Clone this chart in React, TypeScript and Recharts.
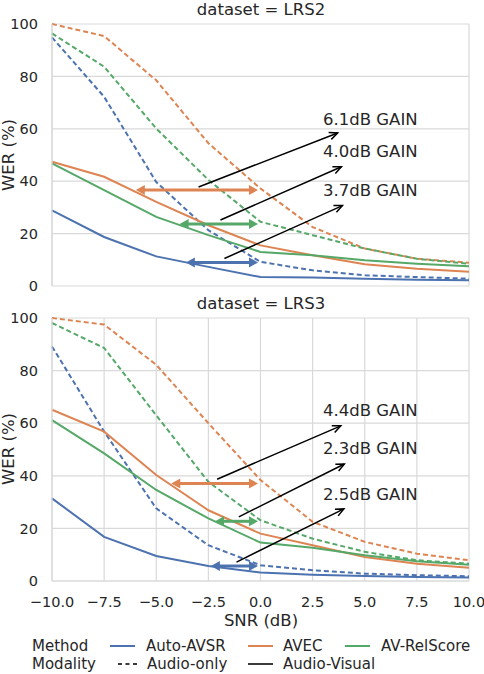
import React from 'react';
import {
  LineChart,
  Line,
  XAxis,
  YAxis,
  CartesianGrid,
  ReferenceLine,
  ReferenceDot,
} from 'recharts';

// SNR levels (dB) on the x axis
const snr = [-10, -7.5, -5, -2.5, 0, 2.5, 5, 7.5, 10];
const yTicks = [0, 20, 40, 60, 80, 100];

// LRS2 WER (%)
const lrs2AutoAvsrAudio = [94.9, 72.2, 39.7, 21.3, 9.2, 6.0, 4.1, 3.4, 2.8];
const lrs2AutoAvsrAV = [28.9, 18.7, 11.3, 7.3, 3.4, 3.2, 2.8, 2.4, 2.2];
const lrs2AvecAudio = [100, 95.4, 78.5, 54.5, 37.2, 22.5, 14.3, 10.4, 8.9];
const lrs2AvecAV = [47.4, 41.7, 32.1, 23.2, 15.5, 11.7, 8.3, 6.6, 5.4];
const lrs2RelAudio = [96.4, 83.7, 60.1, 40.5, 24.5, 19.4, 14.3, 10.4, 8.5];
const lrs2RelAV = [46.8, 36.6, 26.4, 19.4, 13.0, 11.7, 9.8, 8.5, 7.5];

// LRS3 WER (%)
const lrs3AutoAvsrAudio = [89.2, 56.8, 27.6, 13.6, 6.0, 4.1, 2.8, 2.2, 1.8];
const lrs3AutoAvsrAV = [31.4, 16.8, 9.5, 5.7, 3.2, 2.4, 1.9, 1.5, 1.3];
const lrs3AvecAudio = [100, 97.5, 82.2, 60.0, 38.4, 22.5, 14.9, 10.4, 7.9];
const lrs3AvecAV = [65.1, 56.8, 40.3, 26.9, 18.0, 13.6, 9.1, 6.6, 5.0];
const lrs3RelAudio = [98.1, 88.6, 63.0, 37.7, 23.1, 16.1, 11.1, 7.9, 6.6];
const lrs3RelAV = [61.2, 48.5, 34.6, 23.8, 14.6, 12.6, 9.8, 7.5, 6.2];

// annotations: gain arrows (AVEC, AV-RelScore, Auto-AVSR order), y level of each arrow
const lrs2Gains = [6.1, 4.0, 3.7];
const lrs2GainY = [36.6, 23.7, 9.0];
const lrs3Gains = [4.4, 2.3, 2.5];
const lrs3GainY = [37.1, 22.7, 5.7];

// pointer arrows from gain arrow to label: [x1, y1, x2, y2]
const lrs2Pointers = [
  [-2.97, 37.8, 3.7, 58.4],
  [-1.92, 25.2, 3.88, 45.5],
  [-1.73, 10.5, 3.93, 30.7],
];
const lrs3Pointers = [
  [-2.08, 38.7, 3.85, 59.0],
  [-1.04, 24.4, 4.02, 44.5],
  [-1.15, 7.2, 4.0, 27.4],
];
const lrs2LabelY = [63.7, 51.3, 36.3];
const lrs3LabelY = [64.7, 50.2, 32.9];
const labelX = 3.0;

const FONT = '"DejaVu Sans", sans-serif';
const TEXT = '#262626';
const GRID = '#d9d9d9';
const BLUE = '#4c72b0';
const ORANGE = '#dd8452';
const GREEN = '#55a868';
const arrowColors = [ORANGE, GREEN, BLUE];

const buildRows = (
  autoAO: number[], autoAV: number[], avecAO: number[], avecAV: number[], relAO: number[], relAV: number[],
) =>
  snr.map((s, i) => ({
    snr: s,
    autoAO: autoAO[i],
    autoAV: autoAV[i],
    avecAO: avecAO[i],
    avecAV: avecAV[i],
    relAO: relAO[i],
    relAV: relAV[i],
  }));

const lrs2Data = buildRows(lrs2AutoAvsrAudio, lrs2AutoAvsrAV, lrs2AvecAudio, lrs2AvecAV, lrs2RelAudio, lrs2RelAV);
const lrs3Data = buildRows(lrs3AutoAvsrAudio, lrs3AutoAvsrAV, lrs3AvecAudio, lrs3AvecAV, lrs3RelAudio, lrs3RelAV);

const fmtTick = (v: number) => v.toFixed(1).replace('-', '\u2212');

const doubleArrow = (color: string) => (p: any) => {
  const shrink = 2.5;
  const head = 9;
  const half = 5;
  const lx = Math.min(p.x1, p.x2) + shrink;
  const rx = Math.max(p.x1, p.x2) - shrink;
  const y = p.y1;
  return (
    <g>
      <line x1={lx + head - 1} y1={y} x2={rx - head + 1} y2={y} stroke={color} strokeWidth={3} />
      <polygon points={`${lx},${y} ${lx + head},${y - half} ${lx + head},${y + half}`} fill={color} />
      <polygon points={`${rx},${y} ${rx - head},${y - half} ${rx - head},${y + half}`} fill={color} />
    </g>
  );
};

const pointerArrow = (p: any) => {
  const { x1, y1, x2, y2 } = p;
  const ang = Math.atan2(y2 - y1, x2 - x1);
  const len = 9;
  const spread = 0.42;
  const ax = x2 - len * Math.cos(ang - spread);
  const ay = y2 - len * Math.sin(ang - spread);
  const bx = x2 - len * Math.cos(ang + spread);
  const by = y2 - len * Math.sin(ang + spread);
  return (
    <g>
      <line x1={x1} y1={y1} x2={x2} y2={y2} stroke="#000" strokeWidth={1.5} />
      <polyline points={`${ax},${ay} ${x2},${y2} ${bx},${by}`} fill="none" stroke="#000" strokeWidth={1.5} />
    </g>
  );
};

const gainLabel = (text: string) => (p: any) => (
  <text x={p.cx} y={p.cy} dominantBaseline="central" fontSize={16.5} fontFamily={FONT} fill={TEXT}>
    {text}
  </text>
);

interface PanelProps {
  data: any[];
  gains: number[];
  gainY: number[];
  pointers: number[][];
  labelY: number[];
  height: number;
  top: number;
  showX: boolean;
}

const Panel: React.FC<PanelProps> = ({ data, gains, gainY, pointers, labelY, height, top, showX }) => (
  <LineChart
    width={484}
    height={height}
    data={data}
    margin={{ top, right: 15, bottom: showX ? 0 : 9, left: 0 }}
  >
    <CartesianGrid stroke={GRID} strokeWidth={1.2} />
    <XAxis
      dataKey="snr"
      type="number"
      domain={[-10, 10]}
      ticks={snr}
      interval={0}
      height={showX ? 49 : 0}
      tick={showX ? { fontSize: 14.5, fill: TEXT, fontFamily: FONT } : false}
      tickFormatter={fmtTick}
      tickLine={false}
      tickSize={6}
      tickMargin={10}
      axisLine={{ stroke: GRID, strokeWidth: 1.2 }}
    />
    <YAxis
      type="number"
      domain={[0, 100]}
      ticks={yTicks}
      width={52}
      tick={{ fontSize: 14.5, fill: TEXT, fontFamily: FONT }}
      tickLine={false}
      tickSize={6}
      tickMargin={8}
      axisLine={{ stroke: GRID, strokeWidth: 1.2 }}
    />
    <Line dataKey="avecAO" stroke={ORANGE} strokeWidth={2} strokeDasharray="5 3" dot={false} isAnimationActive={false} />
    <Line dataKey="relAO" stroke={GREEN} strokeWidth={2} strokeDasharray="5 3" dot={false} isAnimationActive={false} />
    <Line dataKey="autoAO" stroke={BLUE} strokeWidth={2} strokeDasharray="5 3" dot={false} isAnimationActive={false} />
    <Line dataKey="avecAV" stroke={ORANGE} strokeWidth={2} dot={false} isAnimationActive={false} />
    <Line dataKey="relAV" stroke={GREEN} strokeWidth={2} dot={false} isAnimationActive={false} />
    <Line dataKey="autoAV" stroke={BLUE} strokeWidth={2} dot={false} isAnimationActive={false} />
    {gains.map((g, i) => (
      <ReferenceLine
        key={`g${i}`}
        segment={[{ x: -g, y: gainY[i] }, { x: 0, y: gainY[i] }]}
        shape={doubleArrow(arrowColors[i])}
        ifOverflow="visible"
      />
    ))}
    {pointers.map((pt, i) => (
      <ReferenceLine
        key={`p${i}`}
        segment={[{ x: pt[0], y: pt[1] }, { x: pt[2], y: pt[3] }]}
        shape={pointerArrow}
        ifOverflow="visible"
      />
    ))}
    {gains.map((g, i) => (
      <ReferenceDot
        key={`l${i}`}
        x={labelX}
        y={labelY[i]}
        r={0}
        shape={gainLabel(`${g.toFixed(1)}dB GAIN`)}
        ifOverflow="visible"
      />
    ))}
  </LineChart>
);

const txt = { fontFamily: FONT, fill: TEXT } as const;

const App: React.FC = () => (
  <div style={{ position: 'absolute', left: 0, top: 0, width: 484, height: 674, background: '#fff' }}>
    <div style={{ position: 'absolute', left: 0, top: 0 }}>
      <Panel data={lrs2Data} gains={lrs2Gains} gainY={lrs2GainY} pointers={lrs2Pointers} labelY={lrs2LabelY} height={295} top={24} showX={false} />
    </div>
    <div style={{ position: 'absolute', left: 0, top: 295 }}>
      <Panel data={lrs3Data} gains={lrs3Gains} gainY={lrs3GainY} pointers={lrs3Pointers} labelY={lrs3LabelY} height={335} top={23} showX />
    </div>
    <svg width={484} height={674} style={{ position: 'absolute', left: 0, top: 0, pointerEvents: 'none' }}>
      <text x={261} y={15} textAnchor="middle" fontSize={16.5} {...txt}>dataset = LRS2</text>
      <text x={261} y={309} textAnchor="middle" fontSize={16.5} {...txt}>dataset = LRS3</text>
      <text transform="translate(14,155) rotate(-90)" textAnchor="middle" fontSize={16.5} {...txt}>WER (%)</text>
      <text transform="translate(14,449) rotate(-90)" textAnchor="middle" fontSize={16.5} {...txt}>WER (%)</text>
      <text x={261} y={626} textAnchor="middle" fontSize={16.5} {...txt}>SNR (dB)</text>
      {/* legend */}
      <text x={32} y={651} fontSize={15} {...txt}>Method</text>
      <line x1={110} y1={646} x2={135} y2={646} stroke={BLUE} strokeWidth={2} />
      <text x={146} y={651} fontSize={15} {...txt}>Auto-AVSR</text>
      <line x1={248} y1={646} x2={273} y2={646} stroke={ORANGE} strokeWidth={2} />
      <text x={283} y={651} fontSize={15} {...txt}>AVEC</text>
      <line x1={345} y1={646} x2={370} y2={646} stroke={GREEN} strokeWidth={2} />
      <text x={381} y={651} fontSize={15} {...txt}>AV-RelScore</text>
      <text x={32} y={669} fontSize={15} {...txt}>Modality</text>
      <line x1={118} y1={664} x2={140} y2={664} stroke="#3a3a3a" strokeWidth={2} strokeDasharray="4 3.5" />
      <text x={147} y={669} fontSize={15} {...txt}>Audio-only</text>
      <line x1={248} y1={664} x2={273} y2={664} stroke="#3a3a3a" strokeWidth={2} />
      <text x={283} y={669} fontSize={15} {...txt}>Audio-Visual</text>
    </svg>
  </div>
);

export default App;
